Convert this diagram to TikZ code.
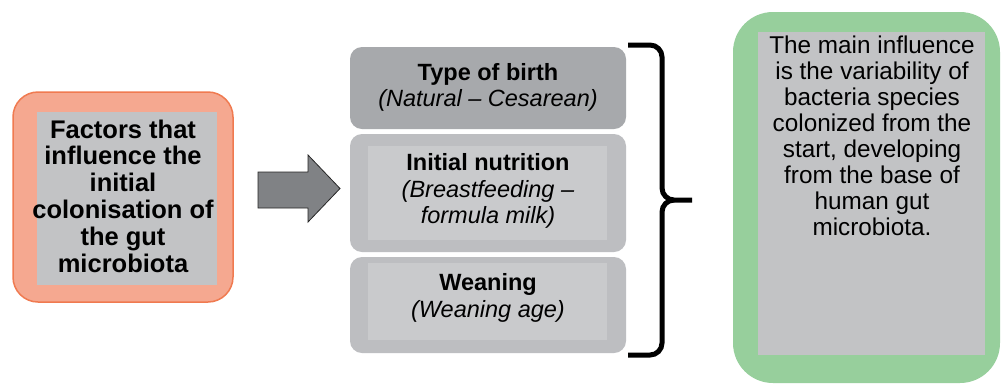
\documentclass[tikz,border=0pt]{standalone}
\usepackage{fontspec}
\setmainfont{Liberation Sans}
\begin{document}
\begin{tikzpicture}[x=1pt,y=-1pt,
  txt/.style={align=center,inner sep=0pt}]
\definecolor{orfill}{HTML}{F5A890}
\definecolor{ordraw}{HTML}{F07A50}
\definecolor{grfill}{HTML}{97CF9C}
\definecolor{gin}{HTML}{C2C3C5}
\definecolor{gdark}{HTML}{A7A9AC}
\definecolor{gmid}{HTML}{BDBEC1}
\definecolor{glight}{HTML}{C9CACC}
\definecolor{arrfill}{HTML}{808285}
\useasboundingbox (0,0) rectangle (1002,384);
\fill[white] (0,0) rectangle (1002,384);
% left box
\draw[ordraw,fill=orfill,line width=1.5pt,rounded corners=25] (13,92) rectangle (233,302);
\fill[gin] (37,112) rectangle (217,285);
\node[txt,font=\fontsize{25.5}{26.8}\selectfont\bfseries] (factors) at (123,196)
  {Factors that\\influence the\\initial\\colonisation of\\the gut\\microbiota};
% arrow
\draw[black!85,fill=arrfill,line width=0.8pt,line join=miter]
  (258,172)--(308,172)--(308,155)--(340,188.5)--(308,222)--(308,208)--(258,208)--cycle;
% middle boxes
\fill[gdark,rounded corners=12] (350,47) rectangle (626,129);
\fill[gmid,rounded corners=12] (350,134) rectangle (626,252);
\fill[glight] (368,146) rectangle (607,240);
\fill[gmid,rounded corners=12] (350,257) rectangle (626,353);
\fill[glight] (368,263) rectangle (607,340);
\begin{scope}[every node/.style={txt,font=\fontsize{23.5}{26.5}\selectfont}]
\node (birth) at (488,87.5) {\textbf{Type of birth}\\\textit{(Natural – Cesarean)}};
\node (nutr) at (488,191) {\textbf{Initial nutrition}\\\textit{(Breastfeeding –}\\\textit{formula milk)}};
\node (wean) at (488,298) {\textbf{Weaning}\\\textit{(Weaning age)}};
\end{scope}
% brace
\draw[black,line width=5pt,line cap=butt]
  (628,45) -- (650,45) to[out=0,in=90] (662,57) -- (662,188) to[out=-90,in=180] (674,200) -- (692,200);
\draw[black,line width=5pt,line cap=butt]
  (628,355) -- (650,355) to[out=0,in=-90] (662,343) -- (662,212) to[out=90,in=180] (674,200);
% right box
\fill[grfill,rounded corners=40] (733,12) rectangle (1000,383);
\fill[gin] (758,32) rectangle (985,355);
\node[txt,font=\fontsize{24.3}{26}\selectfont] (main) at (872,136)
  {The main influence\\is the variability of\\bacteria species\\colonized from the\\start, developing\\from the base of\\human gut\\microbiota.};
\end{tikzpicture}
\end{document}
